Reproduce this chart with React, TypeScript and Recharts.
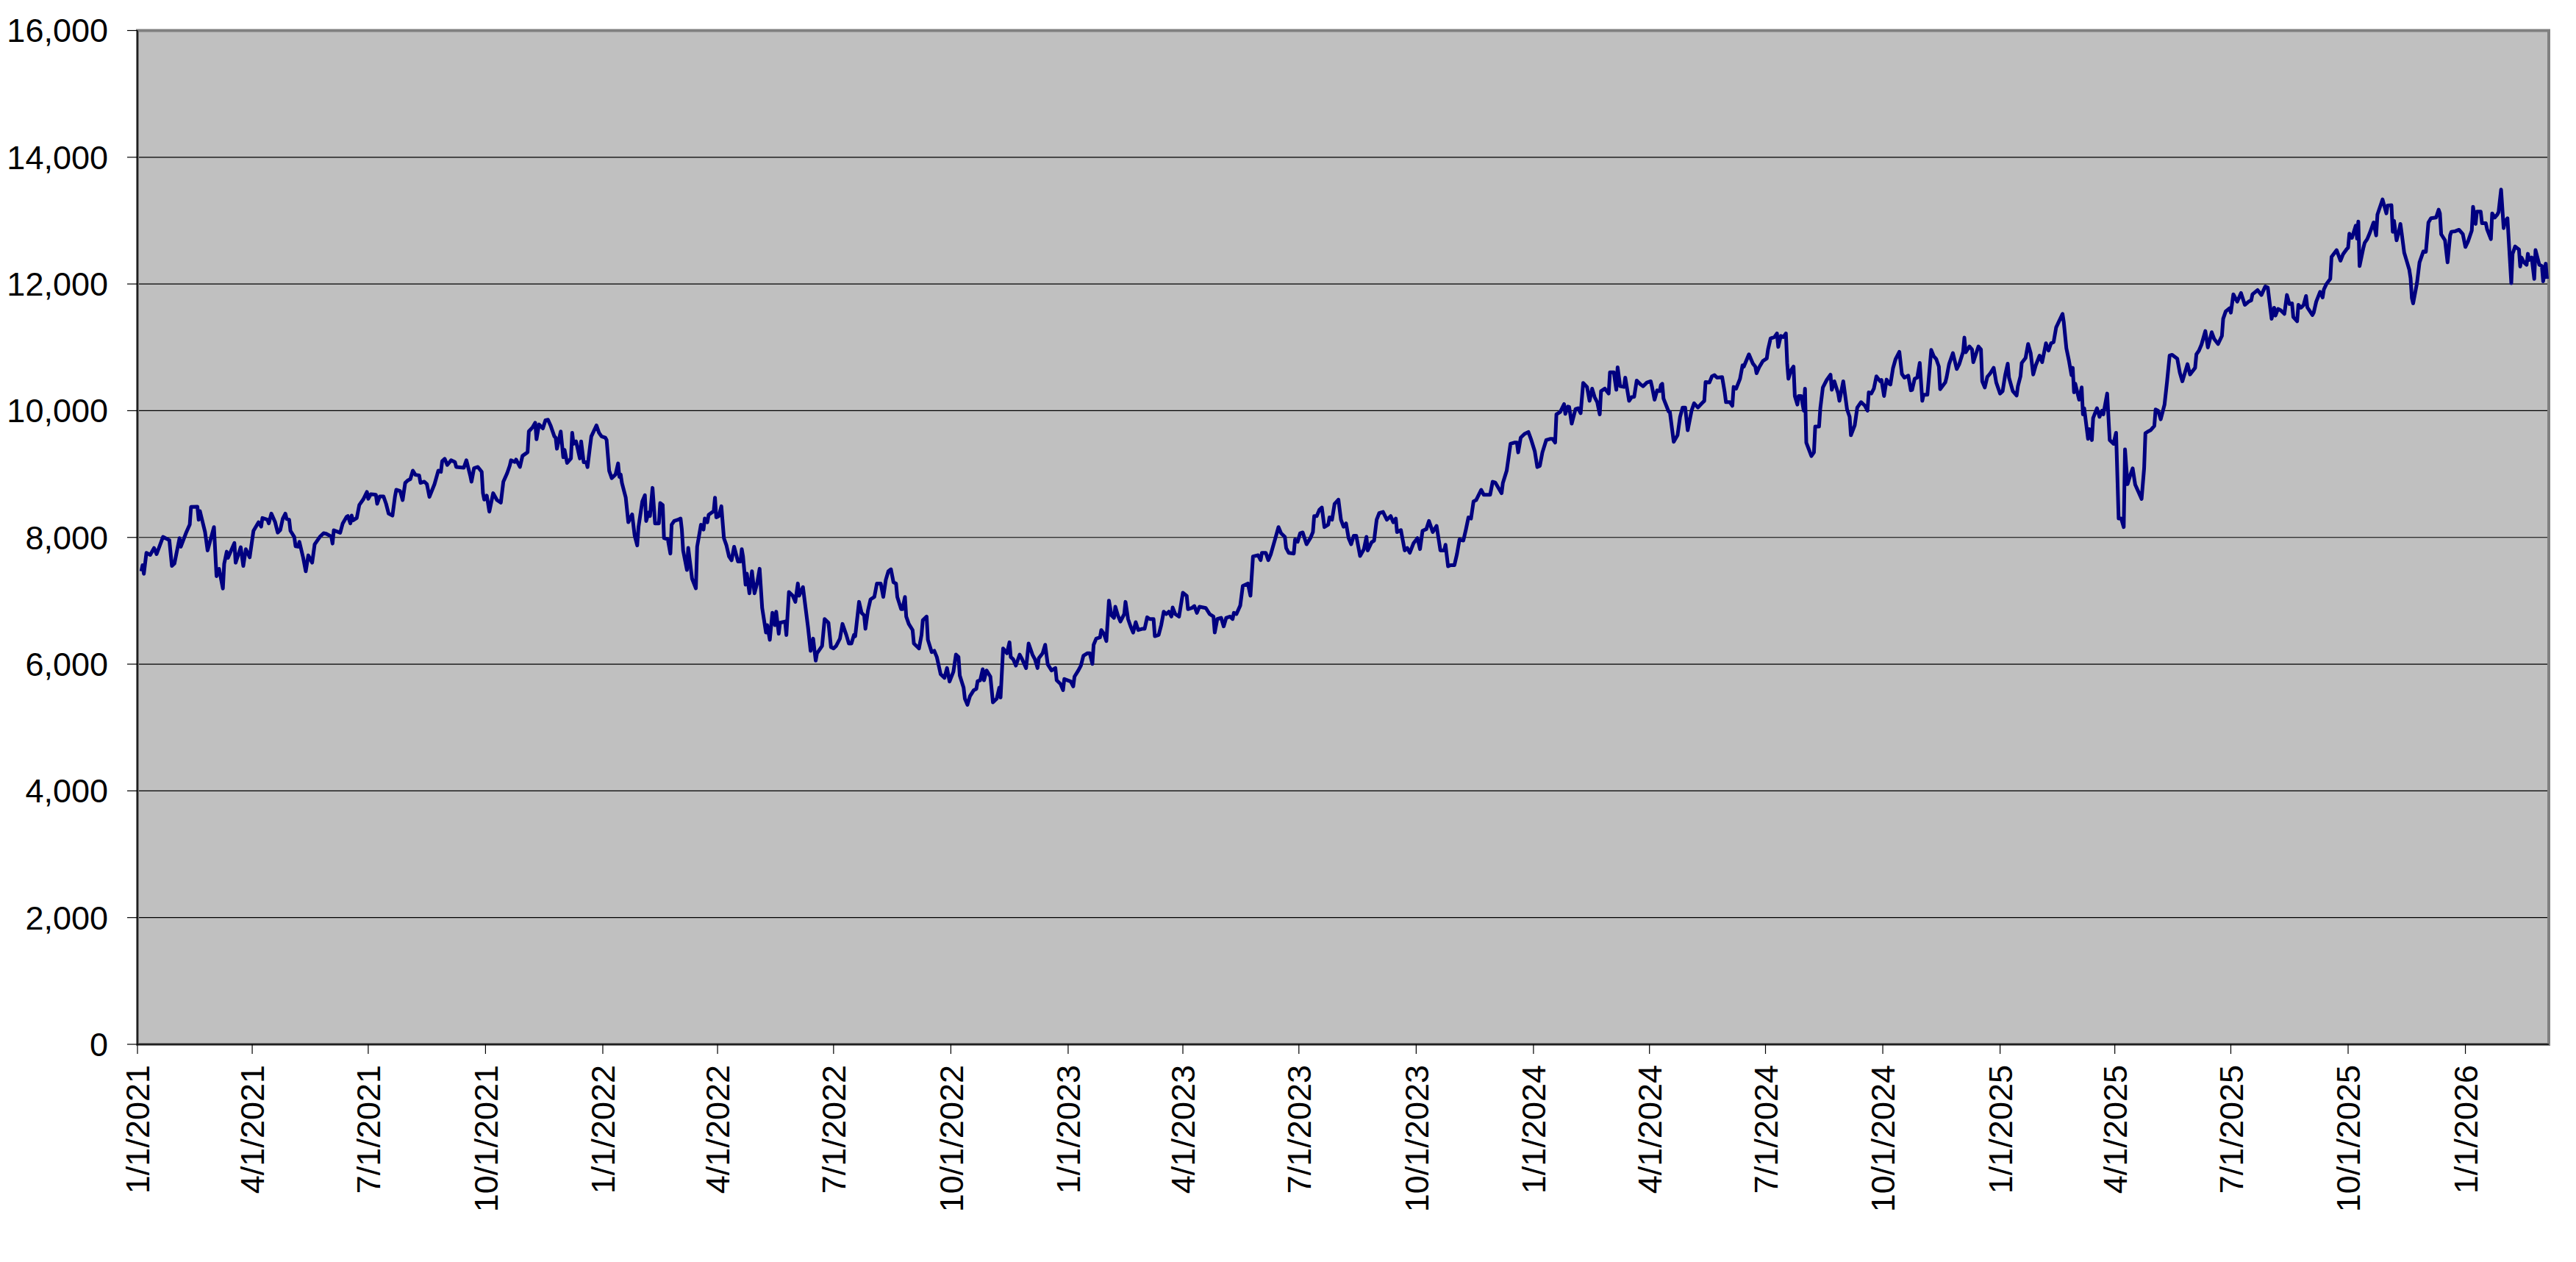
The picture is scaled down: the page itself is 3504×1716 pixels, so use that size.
import { CartesianGrid, Line, LineChart, ReferenceArea, XAxis, YAxis } from "recharts";

// Daily closes, one pair of arrays per calendar year
// (month-day keys, values in index points).
const days2021 = [
  "01-04", "01-05", "01-06", "01-08", "01-11", "01-14", "01-16", "01-21", "01-26", "01-28",
  "01-30", "02-03", "02-04", "02-08", "02-11", "02-12", "02-17", "02-18", "02-19", "02-23",
  "02-25", "03-02", "03-04", "03-06", "03-09", "03-10", "03-12", "03-13", "03-18", "03-19",
  "03-23", "03-25", "03-27", "03-30", "04-02", "04-06", "04-08", "04-09", "04-13", "04-14",
  "04-16", "04-19", "04-21", "04-23", "04-25", "04-27", "04-28", "04-30", "05-01", "05-04",
  "05-05", "05-07", "05-08", "05-11", "05-13", "05-15", "05-18", "05-20", "05-24", "05-27",
  "05-29", "06-02", "06-03", "06-04", "06-09", "06-11", "06-14", "06-15", "06-17", "06-18",
  "06-19", "06-22", "06-24", "06-27", "06-30", "07-01", "07-03", "07-07", "07-08", "07-10",
  "07-13", "07-15", "07-17", "07-20", "07-22", "07-23", "07-26", "07-28", "07-30", "08-01",
  "08-03", "08-05", "08-07", "08-10", "08-11", "08-14", "08-16", "08-18", "08-22", "08-25",
  "08-27", "08-28", "08-30", "09-01", "09-04", "09-07", "09-08", "09-14", "09-16", "09-19",
  "09-20", "09-22", "09-25", "09-28", "09-29", "09-30", "10-02", "10-04", "10-07", "10-10",
  "10-13", "10-15", "10-18", "10-20", "10-21", "10-24", "10-25", "10-28", "10-30", "11-03",
  "11-04", "11-07", "11-09", "11-10", "11-12", "11-15", "11-17", "11-19", "11-21", "11-24",
  "11-25", "11-26", "11-29", "12-01", "12-02", "12-04", "12-07", "12-08", "12-09", "12-11",
  "12-14", "12-15", "12-17", "12-19", "12-20", "12-22", "12-23", "12-27", "12-29", "12-31",
];
const close2021 = [
  7465, 7562, 7426, 7756, 7725, 7833, 7736, 8008, 7957, 7550,
  7589, 7988, 7853, 8066, 8202, 8481, 8485, 8279, 8415, 8085,
  7795, 8163, 7388, 7504, 7194, 7581, 7775, 7678, 7911, 7601,
  7845, 7550, 7814, 7686, 8105, 8240, 8171, 8306, 8279, 8221,
  8376, 8240, 8077, 8116, 8298, 8376, 8291, 8279, 8105, 8008,
  7861, 7853, 7930, 7678, 7465, 7717, 7601, 7891, 8008, 8066,
  8058, 8016, 7903, 8112, 8074, 8221, 8326, 8337, 8221, 8345,
  8268, 8306, 8512, 8597, 8717, 8609, 8682, 8674, 8531, 8647,
  8647, 8531, 8376, 8345, 8647, 8752, 8733, 8589, 8860, 8899,
  8919, 9054, 8988, 8977, 8860, 8880, 8841, 8640, 8841, 9054,
  9035, 9202, 9240, 9143, 9217, 9190, 9112, 9101, 9217, 8977,
  8880, 9093, 9112, 9035, 8698, 8597, 8659, 8407, 8698, 8589,
  8550, 8880, 9016, 9132, 9217, 9190, 9229, 9112, 9287, 9345,
  9674, 9740, 9810, 9550, 9783, 9721, 9849, 9857, 9768, 9594,
  9575, 9400, 9671, 9265, 9381, 9176, 9246, 9652, 9478, 9516,
  9246, 9516, 9188, 9188, 9110, 9439, 9594, 9768, 9652, 9594,
];

const days2022 = [
  "01-03", "01-04", "01-06", "01-08", "01-11", "01-13", "01-14", "01-15", "01-16", "01-19",
  "01-21", "01-24", "01-26", "01-28", "01-29", "02-01", "02-03", "02-04", "02-06", "02-07",
  "02-09", "02-11", "02-14", "02-15", "02-17", "02-18", "02-21", "02-23", "02-24", "02-26",
  "03-01", "03-03", "03-04", "03-05", "03-08", "03-09", "03-12", "03-15", "03-16", "03-19",
  "03-21", "03-22", "03-24", "03-25", "03-29", "03-30", "03-31", "04-02", "04-04", "04-06",
  "04-08", "04-10", "04-12", "04-14", "04-17", "04-19", "04-20", "04-21", "04-23", "04-24",
  "04-26", "04-28", "04-30", "05-02", "05-04", "05-06", "05-09", "05-10", "05-12", "05-14",
  "05-16", "05-17", "05-19", "05-20", "05-24", "05-25", "05-27", "05-30", "06-01", "06-03",
  "06-04", "06-07", "06-11", "06-13", "06-15", "06-17", "06-18", "06-22", "06-24", "06-27",
  "06-29", "07-01", "07-03", "07-06", "07-08", "07-11", "07-13", "07-15", "07-17", "07-18",
  "07-21", "07-23", "07-25", "07-26", "07-28", "07-30", "08-02", "08-04", "08-07", "08-09",
  "08-11", "08-13", "08-15", "08-17", "08-19", "08-20", "08-23", "08-24", "08-26", "08-27",
  "08-29", "09-01", "09-02", "09-06", "09-08", "09-09", "09-12", "09-13", "09-16", "09-18",
  "09-20", "09-23", "09-26", "09-28", "09-30", "10-03", "10-05", "10-07", "10-08", "10-11",
  "10-12", "10-14", "10-16", "10-19", "10-21", "10-22", "10-24", "10-26", "10-27", "10-29",
  "11-01", "11-03", "11-06", "11-08", "11-09", "11-11", "11-14", "11-16", "11-17", "11-19",
  "11-21", "11-24", "11-26", "11-29", "12-01", "12-04", "12-06", "12-08", "12-09", "12-12",
  "12-14", "12-16", "12-19", "12-22", "12-23", "12-26", "12-28", "12-29",
];
const close2022 = [
  9575, 9536, 9052, 8936, 8994, 9168, 8956, 8994, 8859, 8627,
  8240, 8364, 8027, 7873, 8163, 8569, 8666, 8259, 8395, 8337,
  8782, 8221, 8221, 8542, 8511, 7989, 7969, 7745, 8201, 8259,
  8279, 8298, 8124, 7795, 7486, 7834, 7350, 7196, 7853, 8201,
  8124, 8298, 8240, 8356, 8414, 8627, 8317, 8337, 8492, 7989,
  7873, 7699, 7640, 7853, 7621, 7621, 7815, 7699, 7254, 7428,
  7118, 7467, 7118, 7273, 7505, 6886, 6499, 6615, 6383, 6809,
  6615, 6828, 6480, 6654, 6673, 6460, 7138, 7080, 6983, 7273,
  7080, 7215, 6577, 6209, 6403, 6055, 6171, 6287, 6712, 6654,
  6267, 6248, 6287, 6403, 6635, 6461, 6325, 6325, 6461, 6442,
  6983, 6809, 6770, 6558, 6848, 7022, 7061, 7273, 7273, 7061,
  7331, 7467, 7497, 7292, 7273, 7060, 6867, 6867, 7060, 6751,
  6635, 6538, 6325, 6248, 6461, 6693, 6751, 6383, 6190, 6210,
  6112, 5842, 5784, 5938, 5726, 5880, 6151, 6112, 5822, 5629,
  5455, 5358, 5494, 5590, 5610, 5733, 5745, 5919, 5745, 5900,
  5803, 5397, 5455, 5629, 5474, 6248, 6171, 6345, 6112, 6074,
  5977, 6151, 6074, 5938, 6325, 6151, 6074, 5938, 6093, 6171,
  6306, 5996, 5900, 5938, 5745, 5687, 5590, 5765,
];

const days2023 = [
  "01-03", "01-05", "01-06", "01-09", "01-11", "01-13", "01-16", "01-18", "01-20", "01-21",
  "01-23", "01-26", "01-27", "01-29", "01-31", "02-02", "02-04", "02-06", "02-07", "02-09",
  "02-11", "02-14", "02-15", "02-17", "02-19", "02-21", "02-23", "02-25", "02-28", "03-02",
  "03-04", "03-06", "03-09", "03-10", "03-13", "03-15", "03-17", "03-19", "03-21", "03-23",
  "03-24", "03-26", "03-29", "04-01", "04-04", "04-05", "04-08", "04-10", "04-12", "04-14",
  "04-19", "04-22", "04-25", "04-26", "04-28", "05-01", "05-03", "05-05", "05-08", "05-10",
  "05-11", "05-13", "05-16", "05-18", "05-22", "05-24", "05-26", "05-30", "06-01", "06-02",
  "06-05", "06-07", "06-09", "06-12", "06-15", "06-17", "06-20", "06-21", "06-23", "06-27",
  "06-28", "06-30", "07-02", "07-04", "07-07", "07-10", "07-12", "07-13", "07-15", "07-17",
  "07-19", "07-21", "07-24", "07-25", "07-27", "07-29", "08-01", "08-03", "08-05", "08-07",
  "08-09", "08-11", "08-13", "08-15", "08-18", "08-21", "08-23", "08-24", "08-27", "08-29",
  "08-31", "09-02", "09-05", "09-08", "09-11", "09-13", "09-15", "09-16", "09-19", "09-22",
  "09-24", "09-26", "09-29", "10-02", "10-04", "10-06", "10-09", "10-11", "10-14", "10-17",
  "10-20", "10-23", "10-24", "10-26", "10-28", "10-31", "11-02", "11-04", "11-07", "11-09",
  "11-11", "11-13", "11-15", "11-17", "11-21", "11-23", "11-26", "11-28", "11-30", "12-02",
  "12-07", "12-08", "12-11", "12-14", "12-17", "12-19", "12-20", "12-22", "12-25", "12-28",
  "12-30",
];
const close2023 = [
  5726, 5648, 5803, 5900, 5977, 6132, 6171, 6171, 6004, 6306,
  6403, 6422, 6538, 6480, 6364, 7002, 6770, 6731, 6906, 6770,
  6673, 6790, 6983, 6712, 6596, 6499, 6662, 6538, 6557, 6557,
  6739, 6712, 6712, 6441, 6461, 6615, 6828, 6790, 6828, 6751,
  6894, 6790, 6751, 7126, 7079, 6867, 6886, 6917, 6809, 6906,
  6886, 6790, 6751, 6499, 6712, 6731, 6596, 6731, 6751, 6712,
  6809, 6790, 6925, 7234, 7273, 7080, 7699, 7718, 7641, 7757,
  7757, 7641, 7737, 7950, 8163, 8066, 8008, 7834, 7757, 7745,
  7969, 7931, 8066, 8079, 7892, 7989, 8085, 8337, 8337, 8434,
  8472, 8163, 8201, 8317, 8279, 8530, 8596, 8279, 8170, 8221,
  7989, 7892, 8027, 8027, 7706, 7815, 8008, 7795, 7923, 7950,
  8279, 8383, 8402, 8279, 8337, 8240, 8298, 8085, 8116, 7795,
  7834, 7757, 7911, 7989, 7815, 8105, 8132, 8259, 8085, 8182,
  7795, 7795, 7884, 7544, 7563, 7563, 7737, 7969, 7950, 8124,
  8317, 8298, 8569, 8588, 8751, 8673, 8673, 8673, 8878, 8867,
  8697, 8859, 9052, 9478, 9497, 9497, 9342, 9575, 9633, 9663,
  9555,
];

const days2024 = [
  "01-02", "01-04", "01-06", "01-08", "01-11", "01-14", "01-16", "01-18", "01-19", "01-22",
  "01-25", "01-26", "01-28", "01-29", "01-31", "02-03", "02-05", "02-07", "02-09", "02-12",
  "02-14", "02-16", "02-18", "02-20", "02-22", "02-23", "02-26", "02-29", "03-01", "03-04",
  "03-06", "03-07", "03-09", "03-12", "03-13", "03-16", "03-18", "03-20", "03-22", "03-25",
  "03-27", "03-30", "04-02", "04-03", "04-05", "04-07", "04-09", "04-10", "04-11", "04-12",
  "04-16", "04-17", "04-20", "04-23", "04-25", "04-27", "04-29", "05-01", "05-04", "05-06",
  "05-09", "05-12", "05-14", "05-15", "05-18", "05-20", "05-22", "05-24", "05-28", "05-30",
  "05-31", "06-03", "06-05", "06-06", "06-08", "06-11", "06-13", "06-14", "06-18", "06-21",
  "06-23", "06-24", "06-26", "06-29", "07-02", "07-03", "07-05", "07-08", "07-10", "07-11",
  "07-13", "07-15", "07-17", "07-18", "07-19", "07-21", "07-23", "07-24", "07-26", "07-27",
  "07-29", "07-31", "08-01", "08-02", "08-06", "08-08", "08-09", "08-12", "08-13", "08-15",
  "08-18", "08-21", "08-22", "08-24", "08-27", "08-28", "08-31", "09-03", "09-05", "09-06",
  "09-09", "09-11", "09-14", "09-17", "09-19", "09-20", "09-22", "09-24", "09-26", "09-29",
  "09-30", "10-02", "10-04", "10-06", "10-07", "10-09", "10-11", "10-14", "10-16", "10-18",
  "10-21", "10-23", "10-24", "10-26", "10-28", "10-30", "11-01", "11-02", "11-05", "11-08",
  "11-10", "11-12", "11-14", "11-15", "11-19", "11-20", "11-22", "11-25", "11-28", "11-30",
  "12-03", "12-04", "12-05", "12-08", "12-10", "12-11", "12-13", "12-15", "12-17", "12-18",
  "12-20", "12-22", "12-24", "12-27", "12-29",
];
const close2024 = [
  9362, 9110, 9130, 9342, 9536, 9555, 9555, 9497, 9942, 9981,
  10104, 9950, 10066, 10058, 9795, 10027, 10039, 9961, 10437, 10375,
  10155, 10348, 10213, 10135, 9942, 10309, 10348, 10271, 10607, 10607,
  10329, 10685, 10387, 10375, 10522, 10155, 10213, 10220, 10476, 10414,
  10387, 10445, 10464, 10375, 10174, 10321, 10309, 10406, 10425, 10193,
  9988, 9981, 9509, 9613, 9903, 10050, 10050, 9691, 10000, 10116,
  10050, 10116, 10155, 10453, 10445, 10542, 10561, 10522, 10530, 10290,
  10135, 10135, 10077, 10375, 10348, 10503, 10716, 10696, 10890, 10747,
  10696, 10592, 10685, 10785, 10824, 10967, 11141, 11161, 11219, 11006,
  11180, 11161, 11219, 10754, 10503, 10638, 10696, 10232, 10097, 10232,
  10232, 10000, 10348, 9497, 9284, 9342, 9749, 9749, 10039, 10367,
  10484, 10569, 10329, 10464, 10271, 10155, 10464, 10019, 9903, 9613,
  9768, 10050, 10135, 10077, 10000, 10290, 10271, 10348, 10542, 10464,
  10484, 10232, 10491, 10425, 10414, 10669, 10812, 10928, 10580, 10522,
  10553, 10321, 10329, 10503, 10522, 10754, 10155, 10251, 10251, 10959,
  10859, 10812, 10696, 10340, 10445, 10522, 10735, 10909, 10658, 10735,
  10928, 11153, 10921, 11013, 10967, 10766, 10890, 11013, 10967, 10464,
  10367, 10534, 10580, 10677, 10445,
];

const days2025 = [
  "01-01", "01-03", "01-05", "01-07", "01-08", "01-11", "01-14", "01-15", "01-17", "01-18",
  "01-21", "01-23", "01-25", "01-27", "01-29", "02-01", "02-03", "02-06", "02-08", "02-10",
  "02-12", "02-14", "02-19", "02-20", "02-22", "02-24", "02-26", "02-27", "02-28", "03-01",
  "03-04", "03-06", "03-07", "03-08", "03-11", "03-12", "03-14", "03-15", "03-18", "03-20",
  "03-22", "03-23", "03-26", "03-28", "03-31", "04-02", "04-04", "04-06", "04-08", "04-09",
  "04-11", "04-13", "04-15", "04-17", "04-22", "04-24", "04-25", "04-27", "04-29", "05-02",
  "05-03", "05-05", "05-07", "05-10", "05-12", "05-14", "05-16", "05-20", "05-22", "05-24",
  "05-28", "05-30", "06-03", "06-04", "06-06", "06-08", "06-11", "06-13", "06-16", "06-18",
  "06-21", "06-24", "06-25", "06-27", "06-30", "07-01", "07-03", "07-06", "07-09", "07-12",
  "07-15", "07-17", "07-18", "07-22", "07-25", "07-28", "07-30", "08-02", "08-04", "08-05",
  "08-07", "08-09", "08-12", "08-14", "08-16", "08-18", "08-19", "08-22", "08-23", "08-25",
  "08-27", "08-29", "08-30", "09-03", "09-04", "09-06", "09-09", "09-11", "09-12", "09-14",
  "09-17", "09-18", "09-22", "09-25", "09-27", "09-30", "10-01", "10-02", "10-04", "10-07",
  "10-08", "10-09", "10-10", "10-13", "10-14", "10-16", "10-18", "10-21", "10-23", "10-24",
  "10-28", "10-31", "11-01", "11-04", "11-05", "11-06", "11-08", "11-10", "11-11", "11-12",
  "11-14", "11-16", "11-18", "11-19", "11-20", "11-21", "11-24", "11-26", "11-29", "12-01",
  "12-03", "12-05", "12-09", "12-11", "12-12", "12-13", "12-16", "12-18", "12-20", "12-21",
  "12-24", "12-27", "12-30",
];
const close2025 = [
  10271, 10309, 10561, 10743, 10522, 10309, 10240, 10387, 10542, 10754,
  10832, 11052, 10909, 10572, 10716, 10870, 10766, 11064, 10948, 11064,
  11083, 11315, 11528, 11393, 10986, 10793, 10561, 10677, 10290, 10425,
  10174, 10367, 9942, 10039, 9555, 9710, 9536, 9884, 10039, 9903,
  10000, 9942, 10271, 9536, 9478, 9652, 8298, 8298, 8163, 9389,
  8840, 8975, 9091, 8832, 8608, 9091, 9644, 9671, 9691, 9760,
  10019, 10000, 9865, 10097, 10464, 10870, 10882, 10820, 10600, 10464,
  10735, 10572, 10677, 10890, 10948, 11044, 11257, 10998, 11238, 11130,
  11052, 11180, 11451, 11567, 11617, 11547, 11837, 11721, 11857, 11671,
  11722, 11741, 11838, 11903, 11826, 11961, 11942, 11451, 11625, 11501,
  11606, 11586, 11528, 11826, 11683, 11694, 11478, 11412, 11671, 11625,
  11664, 11810, 11632, 11509, 11548, 11722, 11876, 11787, 11915, 12000,
  12081, 12429, 12534, 12367, 12468, 12553, 12572, 12793, 12727, 12921,
  12716, 12986, 12282, 12572, 12650, 12708, 12805, 12971, 12766, 13095,
  13334, 13114, 13238, 13242, 12824, 12998, 12689, 12843, 12948, 12805,
  12495, 12360, 12224, 12089, 11780, 11694, 12012, 12340, 12514, 12507,
  12971, 13037, 13048, 13172, 13114, 12785, 12689, 12340, 12766, 12824,
  12832, 12855, 12785,
];

const days2026 = [
  "01-01", "01-03", "01-06", "01-07", "01-09", "01-10", "01-13", "01-14", "01-17", "01-18",
  "01-21", "01-22", "01-24", "01-26", "01-27", "01-29", "01-31", "02-01", "02-03", "02-06",
  "02-07", "02-09", "02-12", "02-13", "02-14", "02-16", "02-18", "02-19", "02-20", "02-22",
  "02-24", "02-25", "02-28", "03-02", "03-03", "03-05", "03-06",
];
const close2026 = [
  12584, 12668, 12843, 13218, 12948, 13141, 13141, 12959, 12959, 12863,
  12708, 13114, 13048, 13095, 13133, 13489, 12882, 12986, 13037, 12012,
  12476, 12592, 12545, 12275, 12418, 12340, 12302, 12476, 12379, 12418,
  12081, 12534, 12302, 12282, 12043, 12321, 12081,
];

const quarterLabels = [
  "1/1/2021", "4/1/2021", "7/1/2021", "10/1/2021",
  "1/1/2022", "4/1/2022", "7/1/2022", "10/1/2022",
  "1/1/2023", "4/1/2023", "7/1/2023", "10/1/2023",
  "1/1/2024", "4/1/2024", "7/1/2024", "10/1/2024",
  "1/1/2025", "4/1/2025", "7/1/2025", "10/1/2025",
  "1/1/2026",
];
const valueTicks = [0, 2000, 4000, 6000, 8000, 10000, 12000, 14000, 16000];

const FONT = "'Liberation Sans', Arial, sans-serif";

const parseMdy = (s: string) => {
  const [m, d, y] = s.split("/").map(Number);
  return Date.UTC(y, m - 1, d);
};

const years = [
  { year: 2021, days: days2021, close: close2021 },
  { year: 2022, days: days2022, close: close2022 },
  { year: 2023, days: days2023, close: close2023 },
  { year: 2024, days: days2024, close: close2024 },
  { year: 2025, days: days2025, close: close2025 },
  { year: 2026, days: days2026, close: close2026 },
];

const data = years.flatMap(({ year, days, close }) =>
  days.map((md, i) => ({
    t: Date.UTC(year, Number(md.slice(0, 2)) - 1, Number(md.slice(3))),
    value: close[i],
  })),
);

const tickTimes = quarterLabels.map(parseMdy);
const labelByTime = new Map(tickTimes.map((t, i) => [t, quarterLabels[i]]));
const xStart = tickTimes[0];
// The plot runs a little past the last close (early March 2026).
const xEnd = Date.UTC(2026, 2, 7, 10);

function DateTick({ x, y, payload }: any) {
  return (
    <text
      x={x}
      y={y}
      transform={`rotate(-90 ${x} ${y})`}
      textAnchor="end"
      dy="0.36em"
      fill="#000"
      fontSize={45}
      fontFamily={FONT}
    >
      {labelByTime.get(payload.value) ?? ""}
    </text>
  );
}

export default function App() {
  return (
    <div style={{ width: 3490, height: 1700 }}>
      <LineChart
        width={3490}
        height={1700}
        data={data}
        margin={{ top: 33.5, right: 31, bottom: 0, left: 0 }}
      >
        <CartesianGrid
          vertical={false}
          stroke="#000"
          strokeWidth={1.2}
          fill="#C0C0C0"
          fillOpacity={1}
        />
        <ReferenceArea
          x1={xStart}
          x2={xEnd}
          y1={0}
          y2={16000}
          fill="none"
          stroke="#808080"
          strokeWidth={4}
          ifOverflow="visible"
        />
        <XAxis
          dataKey="t"
          type="number"
          domain={[xStart, xEnd]}
          ticks={tickTimes}
          interval={0}
          allowDataOverflow
          height={288}
          tickSize={13}
          tickMargin={15}
          axisLine={{ stroke: "#000", strokeWidth: 1.5 }}
          tickLine={{ stroke: "#000", strokeWidth: 1.2 }}
          tick={<DateTick />}
        />
        <YAxis
          domain={[0, 16000]}
          ticks={valueTicks}
          interval={0}
          width={179}
          tickSize={14}
          tickMargin={26}
          axisLine={{ stroke: "#000", strokeWidth: 1.5 }}
          tickLine={{ stroke: "#000", strokeWidth: 1.2 }}
          tick={{ fill: "#000", fontSize: 45, fontFamily: FONT }}
          tickFormatter={(v: number) => v.toLocaleString("en-US")}
        />
        <Line
          dataKey="value"
          type="linear"
          stroke="#000080"
          strokeWidth={5}
          strokeLinejoin="round"
          dot={false}
          activeDot={false}
          isAnimationActive={false}
        />
      </LineChart>
    </div>
  );
}
